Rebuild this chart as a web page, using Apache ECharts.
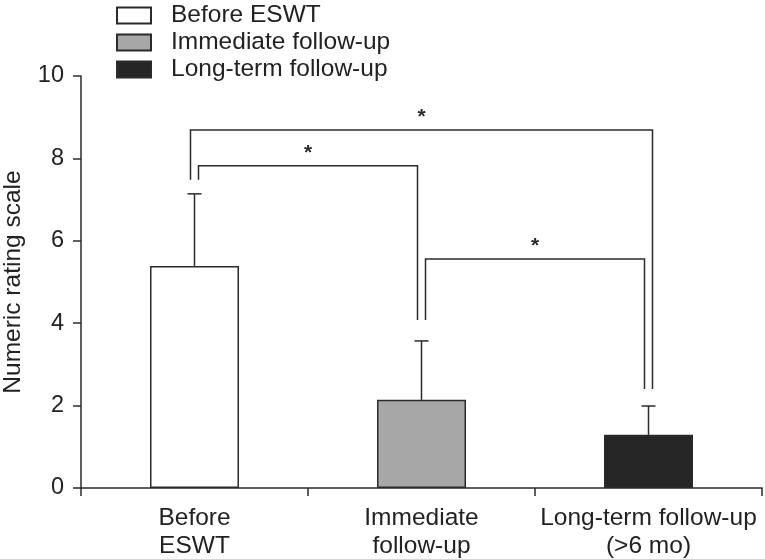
<!DOCTYPE html>
<html>
<head>
<meta charset="utf-8">
<script src="https://cdn.jsdelivr.net/npm/echarts@6/dist/echarts.min.js"></script>
<style>html,body{margin:0;padding:0;background:#fff;}#c{width:765px;height:559px;}</style>
</head>
<body>
<div id="c"></div>
<script>
const categories = ['Before\nESWT', 'Immediate\nfollow-up', 'Long-term follow-up\n(>6 mo)'];
const seriesNames = ['Before ESWT', 'Immediate follow-up', 'Long-term follow-up'];
const means = [5.39, 2.14, 1.29];
const upperErr = [7.14, 3.57, 1.99];
const yTicks = [0, 2, 4, 6, 8, 10];
// significance brackets
const bracketFrom = [0, 0, 1];
const bracketTo = [2, 1, 2];
const bracketTop = [8.69, 7.82, 5.56];
const bracketLeftEnd = [7.48, 7.48, 4.08];
const bracketRightEnd = [2.40, 4.08, 2.40];
const bracketMark = ['*', '*', '*'];

const fills = ['#ffffff', '#a7a7a7', '#262626'];
const ink = '#2b2b2b';
const FONT = 'Liberation Sans';

const chart = echarts.init(document.getElementById('c'), null, {renderer: 'canvas'});

const barSeries = seriesNames.map((name, i) => ({
  name: name,
  type: 'bar',
  stack: 'all',
  barWidth: 89,
  data: categories.map((c, j) => j === i ? means[i] : '-'),
  itemStyle: {color: fills[i], borderColor: ink, borderWidth: 1.5},
  emphasis: {disabled: true},
  z: 2
}));

const errSeries = {
  type: 'custom',
  silent: true,
  z: 3,
  data: means.map((m, i) => [i, m, upperErr[i]]),
  renderItem: function (params, api) {
    const lo = api.coord([api.value(0), api.value(1)]);
    const hi = api.coord([api.value(0), api.value(2)]);
    const hw = 7;
    return {
      type: 'group',
      children: [
        {type: 'line', shape: {x1: lo[0], y1: lo[1], x2: hi[0], y2: hi[1]}, style: {stroke: ink, lineWidth: 1.5}},
        {type: 'line', shape: {x1: hi[0] - hw, y1: hi[1], x2: hi[0] + hw, y2: hi[1]}, style: {stroke: ink, lineWidth: 1.5}}
      ]
    };
  }
};

const bracketSeries = {
  type: 'custom',
  silent: true,
  z: 4,
  data: bracketFrom.map((f, i) => [f, bracketTo[i], bracketTop[i], bracketLeftEnd[i], bracketRightEnd[i]]),
  renderItem: function (params, api) {
    const from = api.value(0), to = api.value(1);
    const outer = (to - from) > 1;
    const lOff = outer ? -4 : 4;
    const rOff = outer ? 4 : -4;
    const top = api.coord([from, api.value(2)]);
    const l = api.coord([from, api.value(3)]);
    const r = api.coord([to, api.value(4)]);
    const xl = l[0] + lOff, xr = r[0] + rOff, yt = top[1];
    return {
      type: 'group',
      children: [
        {type: 'polyline', shape: {points: [[xl, l[1]], [xl, yt], [xr, yt], [xr, r[1]]]},
          style: {stroke: ink, lineWidth: 1.5, fill: 'none'}},
        {type: 'text', x: (xl + xr) / 2, y: yt - 13,
          style: {text: bracketMark[params.dataIndex], fill: ink, font: 'bold 21px ' + FONT, align: 'center', verticalAlign: 'middle'}}
      ]
    };
  }
};

chart.setOption({
  animation: false,
  backgroundColor: '#ffffff',
  textStyle: {fontFamily: FONT},
  legend: {
    orient: 'vertical',
    left: 116,
    top: 3,
    padding: 0,
    itemWidth: 34,
    itemHeight: 16,
    itemGap: 2,
    icon: 'rect',
    selectedMode: false,
    data: seriesNames,
    textStyle: {fontFamily: FONT, fontSize: 24.5, color: '#222', lineHeight: 24, padding: [0, 0, 0, 15]}
  },
  grid: {left: 81, right: 3, top: 76, bottom: 71, containLabel: false, outerBoundsMode: 'none'},
  xAxis: {
    type: 'category',
    data: categories,
    boundaryGap: true,
    axisLine: {show: true, lineStyle: {color: ink, width: 1.5}},
    axisTick: {show: true, length: 8, lineStyle: {color: ink, width: 1.5}},
    axisLabel: {fontFamily: FONT, fontSize: 24.5, color: '#222', lineHeight: 28, margin: 16, interval: 0}
  },
  yAxis: {
    type: 'value',
    min: yTicks[0],
    max: yTicks[yTicks.length - 1],
    interval: 2,
    name: 'Numeric rating scale',
    nameLocation: 'middle',
    nameGap: 55,
    nameTextStyle: {fontFamily: FONT, fontSize: 24.5, color: '#222'},
    axisLine: {show: true, lineStyle: {color: ink, width: 1.5}},
    axisTick: {show: true, length: 8, lineStyle: {color: ink, width: 1.5}},
    axisLabel: {fontFamily: FONT, fontSize: 23.5, color: '#222', margin: 17},
    splitLine: {show: false}
  },
  series: barSeries.concat([errSeries, bracketSeries])
});
</script>
</body>
</html>
